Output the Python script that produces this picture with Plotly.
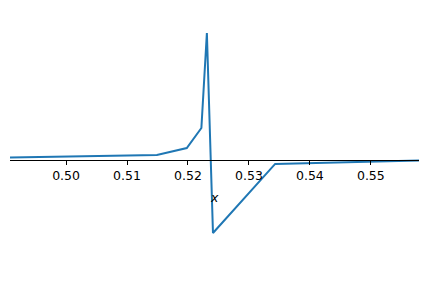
import plotly.graph_objects as go

x_vals = [0.4908, 0.5149, 0.5198, 0.5222, 0.5231, 0.5241, 0.5343, 0.5579]
y_vals = [0.020, 0.040, 0.094, 0.252, 1.000, -0.575, -0.031, -0.004]
tick_vals = [0.50, 0.51, 0.52, 0.53, 0.54, 0.55]
tick_text = ["0.50", "0.51", "0.52", "0.53", "0.54", "0.55"]

y_min, y_max = -0.6535, 1.0787
zero_pos = (0 - y_min) / (y_max - y_min)

fig = go.Figure()
fig.add_trace(go.Scatter(x=x_vals, y=y_vals, mode="lines",
                         line=dict(color="#1f77b4", width=2), hoverinfo="skip"))
fig.update_layout(
    width=429, height=281,
    margin=dict(l=10, r=10, t=23, b=38),
    paper_bgcolor="white", plot_bgcolor="white",
    showlegend=False,
    font=dict(family="DejaVu Sans", size=12.5, color="black"),
    xaxis=dict(range=[x_vals[0], x_vals[-1]], tickvals=tick_vals, ticktext=tick_text,
               showline=True, linecolor="black", linewidth=1.2,
               ticks="outside", ticklen=4, tickwidth=1, tickcolor="black",
               showgrid=False, zeroline=False,
               anchor="free", position=zero_pos),
    yaxis=dict(range=[y_min, y_max], visible=False),
    annotations=[dict(text="<i>x</i>", x=0.5, y=(243 - 197) / 220, xref="paper", yref="paper",
                      showarrow=False, xanchor="center", yanchor="middle",
                      font=dict(family="DejaVu Sans", size=12.5, color="black"))],
)
fig.write_html("out.html")
